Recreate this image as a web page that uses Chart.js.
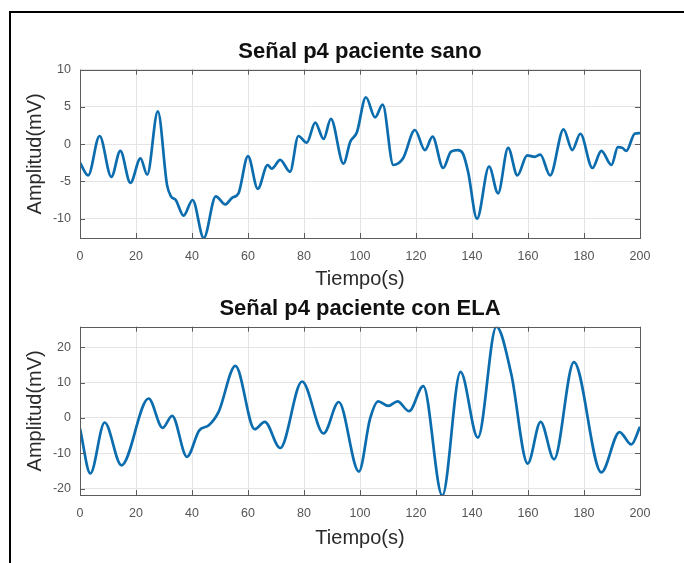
<!DOCTYPE html>
<html lang="es">
<head>
<meta charset="utf-8">
<title>Señal p4</title>
<script src="https://cdn.jsdelivr.net/npm/chart.js@4.4.1/dist/chart.umd.min.js"></script>
<style>
  html, body { margin: 0; padding: 0; background: #fff; overflow: hidden; }
  #page { position: relative; width: 684px; height: 563px; }
  #frame { position: absolute; left: 9px; top: 11px; width: 700px; height: 600px;
           border-left: 2px solid #000; border-top: 2px solid #000; }
  canvas { position: absolute; left: 0; }
  #sano { top: 0; }
  #ela { top: 292px; }
</style>
</head>
<body>
<div id="page">
  <div id="frame"></div>
  <canvas id="sano" width="684" height="292"></canvas>
  <canvas id="ela" width="684" height="271"></canvas>
</div>
<script>
// Healthy patient, signal p4: time (s) and amplitude (mV)
const sanoTime = [0, 2.9, 7.0, 11.2, 14.4, 18.0, 21.6, 24.0, 27.8, 31.1, 32.5, 34.2, 37.0, 40.2,
  44.2, 48.5, 51.9, 54.3, 56.6, 60.0, 63.5, 67.0, 68.5, 71.5, 75.0, 78.0, 81.0, 84.0, 87.0, 89.6,
  94.1, 96.5, 98.9, 102.1, 105.4, 108.1, 111.9, 115.4, 119.6, 123.2, 125.9, 129.7, 132.5, 135.0,
  136.8, 138.6, 141.8, 146.1, 149.3, 152.9, 156.2, 159.7, 162.4, 164.4, 167.9, 172.7, 175.8,
  178.7, 183.0, 186.2, 189.8, 192.1, 193.7, 195.1, 198.1, 200];
const sanoAmp = [-2.5, -4.2, 1.1, -4.4, -0.9, -5.2, -1.9, -4.1, 4.4, -5.5, -7.0, -7.5, -9.6, -7.5,
  -12.6, -7.0, -8.1, -7.2, -6.6, -1.6, -6.0, -2.8, -3.3, -2.1, -3.7, 1.1, 0.2, 2.9, 0.7, 3.4,
  -2.6, 0.3, 1.6, 6.3, 3.6, 5.3, -2.8, -1.9, 1.9, -0.8, 1.0, -3.2, -1.0, -0.8,
  -1.3, -3.7, -10.0, -3.0, -6.6, -0.5, -4.2, -1.5, -1.7, -1.4, -4.2, 2.0, -0.8,
  1.4, -3.2, -0.9, -2.8, -0.4, -0.5, -0.9, 1.4, 1.5];

// ALS patient, signal p4
const elaTime = [0, 3.7, 8.8, 14.8, 24.5, 29.5, 32.9, 38.2, 42.6, 46.0, 49.5, 55.5, 62.4, 66.0,
  71.5, 79.3, 87.0, 92.4, 99.6, 103.6, 106.5, 110.1, 113.4, 117.5, 122.6, 129.4, 135.9, 142.1,
  148.7, 154.0, 159.9, 164.5, 169.3, 176.4, 186.2, 192.7, 196.9, 200];
const elaAmp = [-3.0, -15.7, -1.3, -13.4, 5.5, -2.8, 0.6, -11.0, -3.5, -2.1, 1.7, 14.7, -3.2, -1.1,
  -8.5, 10.3, -4.4, 4.5, -15.2, -0.2, 4.7, 3.4, 4.7, 1.9, 9.0, -22.0, 13.0, -5.6,
  25.8, 12.5, -12.9, -1.1, -11.7, 15.8, -15.4, -4.0, -7.5, -2.5];

const timeTicks = [0, 20, 40, 60, 80, 100, 120, 140, 160, 180, 200];
const sanoAmpTicks = [-10, -5, 0, 5, 10];
const elaAmpTicks = [-20, -10, 0, 10, 20];

const FONT = "'Liberation Sans', Arial, Helvetica, sans-serif";

// Axes box with short inward tick marks on all four sides
const boxTicks = {
  id: 'boxTicks',
  afterDatasetsDraw(chart) {
    const { ctx, chartArea: a, scales } = chart;
    const len = 5;
    ctx.save();
    ctx.strokeStyle = '#5c5c5c';
    ctx.lineWidth = 1;
    ctx.beginPath();
    scales.x.ticks.forEach(t => {
      const px = Math.round(scales.x.getPixelForValue(t.value)) + 0.5;
      ctx.moveTo(px, a.bottom); ctx.lineTo(px, a.bottom - len);
      ctx.moveTo(px, a.top); ctx.lineTo(px, a.top + len);
    });
    scales.y.ticks.forEach(t => {
      const py = Math.round(scales.y.getPixelForValue(t.value)) + 0.5;
      ctx.moveTo(a.left, py); ctx.lineTo(a.left + len, py);
      ctx.moveTo(a.right, py); ctx.lineTo(a.right - len, py);
    });
    ctx.stroke();
    ctx.strokeRect(Math.round(a.left) + 0.5, Math.round(a.top) + 0.5,
                   Math.round(a.right - a.left), Math.round(a.bottom - a.top));
    ctx.restore();
  }
};

function makeChart(id, title, times, amps, yMin, yMax, yTicks, titlePad, xHeight, xTitlePad) {
  const points = times.map((t, i) => ({ x: t, y: amps[i] }));
  return new Chart(document.getElementById(id), {
    type: 'line',
    data: {
      datasets: [{
        data: points,
        borderColor: '#0b6cae',
        borderWidth: 2.7,
        pointRadius: 0,
        cubicInterpolationMode: 'monotone',
        fill: false
      }]
    },
    options: {
      responsive: false,
      animation: false,
      layout: { padding: { left: 0, right: 44, top: 0, bottom: 0 } },
      plugins: {
        legend: { display: false },
        tooltip: { enabled: false },
        title: {
          display: true,
          text: title,
          fullSize: false,
          color: '#111',
          font: { family: FONT, size: 22, weight: 'bold' },
          padding: titlePad
        }
      },
      scales: {
        x: {
          type: 'linear',
          min: 0, max: 200,
          afterBuildTicks: s => { s.ticks = timeTicks.map(v => ({ value: v })); },
          afterFit: s => { s.height = xHeight; },
          grid: { color: '#e4e4e4', drawTicks: false },
          border: { display: false },
          ticks: { color: '#555', padding: 11.5, maxRotation: 0,
                   font: { family: FONT, size: 12.5 } },
          title: { display: true, text: 'Tiempo(s)', color: '#2a2a2a',
                   font: { family: FONT, size: 20 }, padding: { top: 0, bottom: xTitlePad } }
        },
        y: {
          type: 'linear',
          min: yMin, max: yMax,
          afterBuildTicks: s => { s.ticks = yTicks.map(v => ({ value: v })); },
          afterFit: s => { s.width = 80; },
          grid: { color: '#e4e4e4', drawTicks: false },
          border: { display: false },
          ticks: { color: '#555', padding: 9, font: { family: FONT, size: 12.5 } },
          title: { display: true, text: 'Amplitud(mV)', color: '#2a2a2a',
                   font: { family: FONT, size: 20 }, padding: { top: 23, bottom: 0 } }
        }
      }
    },
    plugins: [boxTicks]
  });
}

makeChart('sano', 'Señal p4 paciente sano', sanoTime, sanoAmp, -12.6, 10, sanoAmpTicks,
          { top: 39, bottom: 4.3 }, 54, 1);
makeChart('ela', 'Señal p4 paciente con ELA', elaTime, elaAmp, -21.8, 25.8, elaAmpTicks,
          { top: 4, bottom: 4.3 }, 68, 13);
</script>
</body>
</html>
